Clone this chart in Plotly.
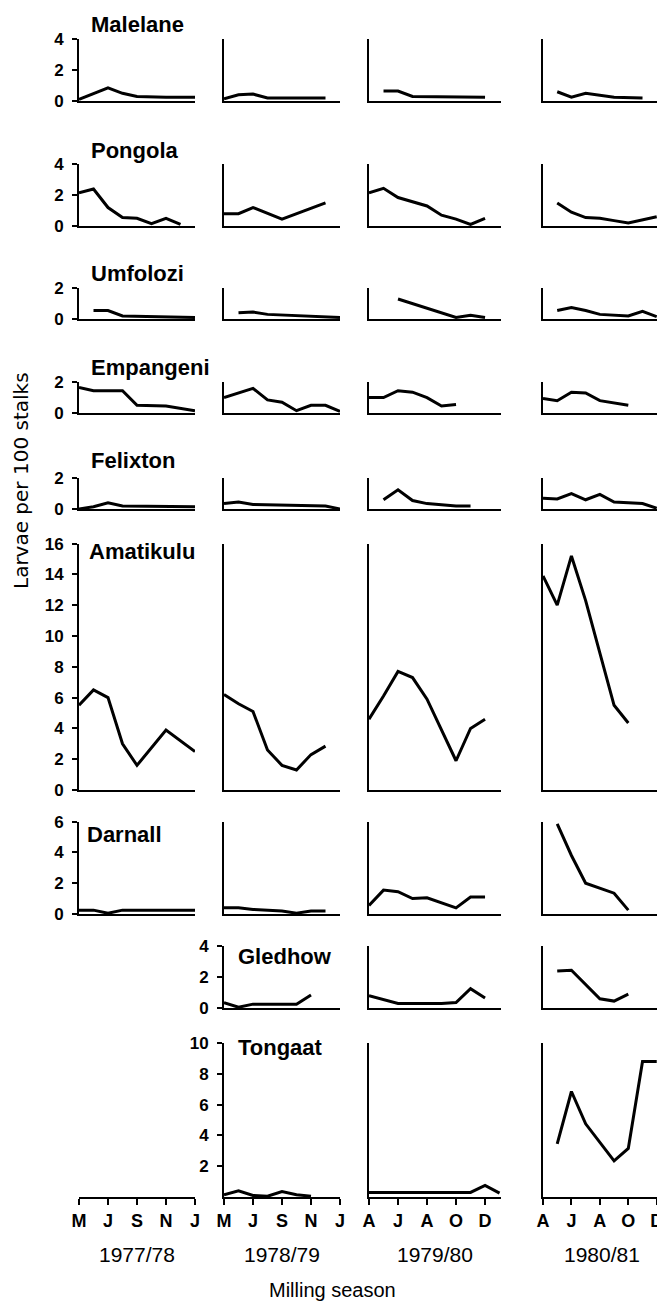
import plotly.graph_objects as go

# ---------------- DATA ----------------
stations = ["Malelane", "Pongola", "Umfolozi", "Empangeni", "Felixton",
            "Amatikulu", "Darnall", "Gledhow", "Tongaat"]
seasons = ["1977/78", "1978/79", "1979/80", "1980/81"]
month_tickvals = [0, 2, 4, 6, 8]
month_labels = [["M", "J", "S", "N", "J"],
                ["M", "J", "S", "N", "J"],
                ["A", "J", "A", "O", "D"],
                ["A", "J", "A", "O", "D"]]
y_max = [4, 4, 2, 2, 2, 16, 6, 4, 10]
y_tickvals = [[0, 2, 4], [0, 2, 4], [0, 2], [0, 2], [0, 2],
              [0, 2, 4, 6, 8, 10, 12, 14, 16], [0, 2, 4, 6], [0, 2, 4],
              [2, 4, 6, 8, 10]]

# month index (x) and larvae per 100 stalks (y), one list per season
malelane_x = [[0, 2, 3, 4, 6, 8], [0, 1, 2, 3, 7], [1, 2, 3, 8], [1, 2, 3, 5, 7]]
malelane_y = [[0.1, 0.85, 0.5, 0.3, 0.25, 0.25], [0.15, 0.4, 0.45, 0.2, 0.2],
              [0.65, 0.65, 0.3, 0.25], [0.6, 0.25, 0.5, 0.25, 0.2]]

pongola_x = [[0, 1, 2, 3, 4, 5, 6, 7], [0, 1, 2, 4, 7],
             [0, 1, 2, 3, 4, 5, 6, 7, 8], [1, 2, 3, 4, 5, 6, 8]]
pongola_y = [[2.15, 2.4, 1.2, 0.55, 0.5, 0.15, 0.5, 0.1], [0.8, 0.8, 1.2, 0.45, 1.5],
             [2.15, 2.45, 1.85, 1.6, 1.3, 0.7, 0.45, 0.1, 0.5],
             [1.5, 0.9, 0.55, 0.5, 0.35, 0.2, 0.6]]

umfolozi_x = [[1, 2, 3, 8], [1, 2, 3, 8], [2, 6, 7, 8], [1, 2, 3, 4, 6, 7, 8]]
umfolozi_y = [[0.55, 0.55, 0.2, 0.1], [0.4, 0.45, 0.3, 0.1],
              [1.3, 0.1, 0.25, 0.1], [0.55, 0.75, 0.55, 0.3, 0.2, 0.5, 0.15]]

empangeni_x = [[0, 1, 3, 4, 6, 8], [0, 2, 3, 4, 5, 6, 7, 8],
               [0, 1, 2, 3, 4, 5, 6], [0, 1, 2, 3, 4, 6]]
empangeni_y = [[1.65, 1.45, 1.45, 0.5, 0.45, 0.15],
               [1.0, 1.6, 0.85, 0.7, 0.15, 0.5, 0.5, 0.1],
               [1.0, 1.0, 1.45, 1.35, 1.0, 0.45, 0.55],
               [0.95, 0.8, 1.35, 1.3, 0.8, 0.5]]

felixton_x = [[0, 1, 2, 3, 8], [0, 1, 2, 7, 8], [1, 2, 3, 4, 6, 7],
              [0, 1, 2, 3, 4, 5, 7, 8]]
felixton_y = [[0.0, 0.15, 0.4, 0.2, 0.15], [0.35, 0.45, 0.3, 0.2, 0.0],
              [0.6, 1.25, 0.55, 0.35, 0.2, 0.2],
              [0.7, 0.65, 1.0, 0.6, 0.95, 0.45, 0.35, 0.05]]

amatikulu_x = [[0, 1, 2, 3, 4, 6, 8], [0, 1, 2, 3, 4, 5, 6, 7],
               [0, 1, 2, 3, 4, 6, 7, 8], [0, 1, 2, 3, 5, 6]]
amatikulu_y = [[5.5, 6.5, 6.0, 3.0, 1.6, 3.9, 2.5],
               [6.2, 5.6, 5.1, 2.6, 1.6, 1.3, 2.3, 2.85],
               [4.6, 6.1, 7.7, 7.3, 5.9, 1.9, 4.0, 4.6],
               [13.9, 12.0, 15.2, 12.3, 5.5, 4.35]]

darnall_x = [[0, 1, 2, 3, 8], [0, 1, 2, 4, 5, 6, 7],
             [0, 1, 2, 3, 4, 6, 7, 8], [1, 2, 3, 4, 5, 6]]
darnall_y = [[0.25, 0.25, 0.05, 0.25, 0.25], [0.4, 0.4, 0.3, 0.2, 0.05, 0.2, 0.2],
             [0.55, 1.55, 1.45, 1.0, 1.05, 0.4, 1.1, 1.1],
             [5.85, 3.8, 2.0, 1.65, 1.35, 0.25]]

gledhow_x = [None, [0, 1, 2, 5, 6], [0, 2, 5, 6, 7, 8], [1, 2, 4, 5, 6]]
gledhow_y = [None, [0.35, 0.05, 0.25, 0.25, 0.85], [0.8, 0.3, 0.3, 0.35, 1.25, 0.65],
             [2.4, 2.45, 0.6, 0.45, 0.9]]

tongaat_x = [None, [0, 1, 2, 3, 4, 5, 6], [0, 7, 8, 9], [1, 2, 3, 5, 6, 7, 8]]
tongaat_y = [None, [0.15, 0.4, 0.1, 0.05, 0.35, 0.15, 0.05], [0.3, 0.3, 0.75, 0.25],
             [3.45, 6.85, 4.75, 2.35, 3.15, 8.8, 8.8]]

series_x = [malelane_x, pongola_x, umfolozi_x, empangeni_x, felixton_x,
            amatikulu_x, darnall_x, gledhow_x, tongaat_x]
series_y = [malelane_y, pongola_y, umfolozi_y, empangeni_y, felixton_y,
            amatikulu_y, darnall_y, gledhow_y, tongaat_y]

# ---------------- LAYOUT (screen pixels) ----------------
W, H = 665, 1304
OFF = 8  # page body margin the figure sits behind
col_px = [(79, 195), (224, 340), (369, 501), (543, 661)]
x_span = [8, 8, 9.1, 8.3]
row_base = [101, 226, 319, 413, 509, 790, 914, 1008, 1197]
ppu = 15.4
title_pos = [(89, 24), (89, 150), (89, 273), (89, 367), (89, 461),
             (87, 551), (85, 835), (236, 956), (236, 1047)]


def fx(px):
    return (px - OFF) / W


def fy(py):
    return 1 - (py - OFF) / H


FONT = "Liberation Sans"
fig = go.Figure()
layout = {}
k = 0
for r, name in enumerate(stations):
    base = row_base[r]
    top = base - y_max[r] * ppu
    ydom = [fy(base), fy(top)]
    first_data_col = next(i for i, v in enumerate(series_x[r]) if v is not None)
    for c in range(4):
        xs = series_x[r][c]
        bottom_row = (r == len(stations) - 1)
        if xs is None and not (bottom_row and c == 0):
            continue
        k += 1
        xa = "xaxis" if k == 1 else f"xaxis{k}"
        ya = "yaxis" if k == 1 else f"yaxis{k}"
        xr = "x" if k == 1 else f"x{k}"
        yr = "y" if k == 1 else f"y{k}"
        l, rr = col_px[c]
        xax = dict(domain=[fx(l), fx(rr)], range=[0, x_span[c]], anchor=yr,
                   showline=True, linewidth=2, linecolor="black", automargin=False,
                   showgrid=False, zeroline=False, fixedrange=True)
        if bottom_row:
            xax.update(tickmode="array", tickvals=month_tickvals,
                       ticktext=month_labels[c], ticks="outside", ticklen=6,
                       tickwidth=2, tickcolor="black",
                       tickfont=dict(family=FONT, size=18, color="black", weight="bold"))
        else:
            xax.update(showticklabels=False, ticks="")
        yax = dict(domain=ydom, range=[0, y_max[r]], anchor=xr, automargin=False,
                   showline=(xs is not None), linewidth=2, linecolor="black",
                   showgrid=False, zeroline=False, fixedrange=True)
        if xs is not None and c == first_data_col:
            yax.update(tickmode="array", tickvals=y_tickvals[r],
                       ticks="outside", ticklen=5, tickwidth=2, tickcolor="black",
                       ticklabelstandoff=5,
                       tickfont=dict(family=FONT, size=17, color="black", weight="bold"))
        else:
            yax.update(showticklabels=False, ticks="")
        if xs is None:
            yax.update(visible=False)
        layout[xa] = xax
        layout[ya] = yax
        if xs is not None:
            fig.add_trace(go.Scatter(x=xs, y=series_y[r][c], xaxis=xr, yaxis=yr,
                                     mode="lines", showlegend=False,
                                     line=dict(color="black", width=3)))
        else:
            fig.add_trace(go.Scatter(x=[], y=[], xaxis=xr, yaxis=yr,
                                     mode="lines", showlegend=False))

annotations = []
for r, name in enumerate(stations):
    tx, ty = title_pos[r]
    annotations.append(dict(text=name, x=fx(tx), y=fy(ty), xref="paper", yref="paper",
                            xanchor="left", yanchor="middle", showarrow=False,
                            font=dict(family=FONT, size=22, color="black", weight="bold")))
for c, s in enumerate(seasons):
    l, rr = col_px[c]
    annotations.append(dict(text=s, x=fx((l + rr) / 2), y=fy(1254), xref="paper",
                            yref="paper", xanchor="center", yanchor="middle",
                            showarrow=False,
                            font=dict(family=FONT, size=21, color="black")))
annotations.append(dict(text="Milling season", x=fx(332), y=fy(1290), xref="paper",
                        yref="paper", xanchor="center", yanchor="middle", showarrow=False,
                        font=dict(family=FONT, size=20, color="black")))
annotations.append(dict(text="Larvae per 100 stalks", x=fx(21), y=fy(481),
                        xref="paper", yref="paper", xanchor="center", yanchor="middle",
                        textangle=-90, showarrow=False,
                        font=dict(family="DejaVu Sans", size=20, color="black")))

fig.update_layout(width=W, height=H,
                  margin=dict(l=0, r=0, t=0, b=0, pad=0, autoexpand=False),
                  paper_bgcolor="white", plot_bgcolor="white",
                  showlegend=False, annotations=annotations, **layout)

fig.write_html("out.html", config={"displayModeBar": False})
